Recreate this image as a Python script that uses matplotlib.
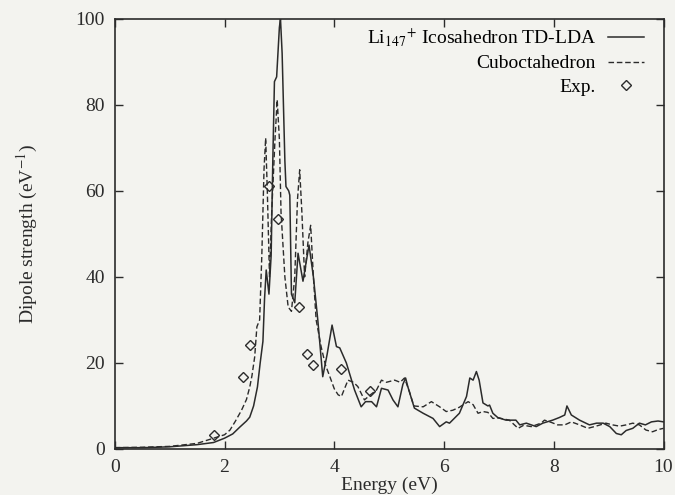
import matplotlib
matplotlib.use("Agg")
import matplotlib.pyplot as plt

# Icosahedron TD-LDA (solid)
ico_e = [0.0, 0.5, 1.0, 1.5, 1.8, 2.0, 2.15, 2.28, 2.4, 2.46, 2.53, 2.6, 2.65, 2.7, 2.73,
         2.76, 2.81, 2.85, 2.88, 2.91, 2.95, 3.0, 3.02, 3.05, 3.10, 3.12, 3.17, 3.19, 3.22,
         3.28, 3.34, 3.43, 3.54, 3.62, 3.7, 3.79, 3.87, 3.96, 4.04, 4.1, 4.22, 4.37, 4.49,
         4.57, 4.68, 4.77, 4.86, 4.98, 5.07, 5.16, 5.25, 5.30, 5.34, 5.46, 5.62, 5.8, 5.92,
         6.04, 6.1, 6.28, 6.41, 6.47, 6.53, 6.59, 6.64, 6.71, 6.8, 6.83, 6.89, 6.98, 7.13,
         7.31, 7.38, 7.5, 7.68, 7.8, 7.98, 8.1, 8.2, 8.24, 8.32, 8.47, 8.65, 8.78, 8.9,
         9.02, 9.14, 9.23, 9.32, 9.44, 9.56, 9.67, 9.78, 9.9, 10.0]
ico_s = [0.3, 0.3, 0.5, 1.0, 1.5, 2.5, 3.5, 5.1, 6.5, 7.4, 10.0, 14.4, 20.0, 25.0, 35.0,
         41.6, 36.0, 45.0, 67.0, 85.4, 86.5, 98.0, 100.0, 92.0, 67.0, 61.0, 60.0, 59.0, 36.0,
         34.0, 45.5, 39.0, 47.4, 40.0, 30.0, 16.8, 22.0, 28.8, 23.8, 23.5, 20.0, 13.7, 9.8,
         11.0, 11.0, 9.8, 14.1, 13.7, 11.4, 9.8, 15.0, 16.5, 14.5, 9.5, 8.3, 7.1, 5.2,
         6.3, 6.0, 8.3, 12.2, 16.5, 16.0, 18.0, 16.0, 10.7, 10.0, 10.2, 8.3, 7.3, 6.7,
         6.7, 5.6, 6.0, 5.2, 6.0, 6.7, 7.3, 7.9, 10.0, 7.9, 6.7, 5.6, 6.0, 6.0,
         5.2, 3.6, 3.3, 4.3, 4.8, 6.0, 5.6, 6.3, 6.5, 6.3]

# Cuboctahedron (dashed)
cub_e = [0.0, 0.5, 1.0, 1.5, 1.8, 2.0, 2.1, 2.2, 2.31, 2.4, 2.46, 2.5, 2.55, 2.59, 2.64,
         2.68, 2.72, 2.75, 2.78, 2.82, 2.86, 2.92, 2.96, 3.0, 3.03, 3.1, 3.16, 3.22, 3.28,
         3.33, 3.37, 3.41, 3.46, 3.52, 3.57, 3.62, 3.67, 3.76, 3.84, 3.92, 4.0, 4.07, 4.13,
         4.25, 4.35, 4.43, 4.55, 4.65, 4.77, 4.86, 4.95, 5.1, 5.2, 5.28, 5.37, 5.45, 5.62,
         5.77, 5.92, 6.04, 6.16, 6.28, 6.34, 6.44, 6.53, 6.62, 6.71, 6.8, 6.89, 7.0, 7.19,
         7.35, 7.45, 7.59, 7.77, 7.83, 7.95, 8.07, 8.2, 8.32, 8.47, 8.62, 8.77, 8.95, 9.07,
         9.2, 9.32, 9.44, 9.56, 9.68, 9.8, 9.9, 10.0]
cub_s = [0.3, 0.4, 0.6, 1.3, 2.5, 3.3, 4.4, 6.5, 9.0, 11.5, 14.4, 17.0, 21.4, 28.4, 30.0,
         45.0, 65.0, 72.3, 60.0, 40.0, 55.0, 72.0, 81.2, 72.0, 55.0, 40.0, 33.0, 32.0, 40.0,
         58.0, 64.9, 55.0, 40.0, 48.0, 52.0, 40.0, 30.0, 23.8, 19.5, 16.8, 14.0, 12.6, 12.2,
         16.0, 15.5, 14.5, 11.4, 12.5, 13.7, 16.0, 15.5, 16.0, 15.5, 16.5, 13.3, 10.0, 9.8,
         11.0, 9.8, 8.7, 9.0, 9.7, 10.2, 11.0, 10.3, 8.3, 8.7, 8.5, 7.1, 7.2, 6.7,
         4.8, 5.5, 5.2, 6.0, 6.7, 6.2, 5.6, 5.6, 6.3, 5.6, 4.8, 5.3, 6.0, 5.6,
         5.3, 5.6, 6.0, 5.6, 4.4, 4.0, 4.5, 4.8]

# Experiment
exp_e = [1.80, 2.33, 2.46, 2.81, 2.97, 3.35, 3.50, 3.62, 4.13, 4.66]
exp_s = [3.3, 16.7, 24.2, 61.2, 53.5, 33.0, 22.1, 19.5, 18.6, 13.5]

plt.rcParams["font.family"] = "Liberation Serif"
plt.rcParams["mathtext.fontset"] = "stix"
plt.rcParams["font.size"] = 14

ink = "#2b2b2b"
paper = "#f3f3ef"

fig = plt.figure(figsize=(6.75, 4.95), dpi=100, facecolor=paper)
ax = fig.add_axes([0.170, 0.093, 0.813, 0.869], facecolor=paper)

ax.plot(ico_e, ico_s, color=ink, lw=1.1, label=r"Li$_{147}{}^{+}$ Icosahedron TD-LDA")
ax.plot(cub_e, cub_s, color=ink, lw=1.0, dashes=(4, 2), label="Cuboctahedron")
ax.plot(exp_e, exp_s, ls="none", marker="D", ms=5, mfc="none", mec=ink, mew=1.0, label="Exp.")

ax.set_xlim(0, 10)
ax.set_ylim(0, 100)
ax.set_xticks([0, 2, 4, 6, 8, 10])
ax.set_yticks([0, 20, 40, 60, 80, 100])
ax.tick_params(direction="in", top=True, right=True, length=6, width=1.0, colors=ink, labelsize=14, pad=7)
for s in ax.spines.values():
    s.set_color(ink)
    s.set_linewidth(1.2)

ax.set_xlabel("Energy (eV)", color=ink, labelpad=1)
ax.set_ylabel(r"Dipole strength (eV$^{-1}$)", color=ink, labelpad=26)

ax.legend(loc="upper right", bbox_to_anchor=(0.978, 1.0), frameon=False, markerfirst=False,
          handlelength=1.85, labelspacing=0.3, borderaxespad=0.0, handletextpad=0.6, fontsize=14)

fig.savefig("out.png", dpi=100, facecolor=paper)
